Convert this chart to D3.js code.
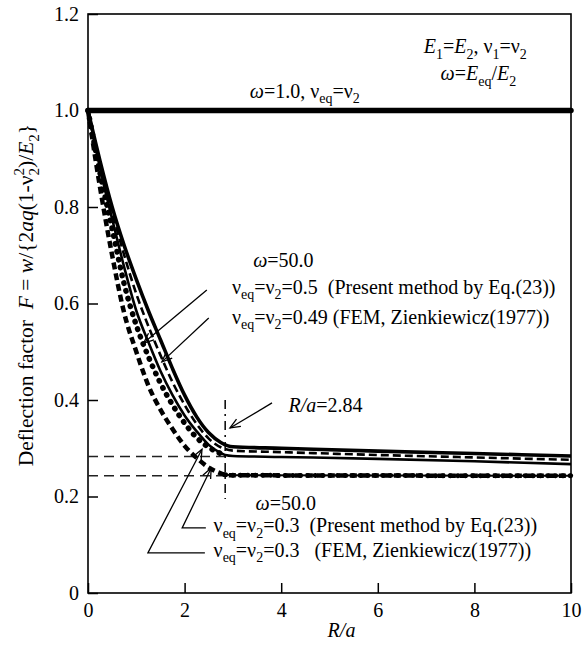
<!DOCTYPE html>
<html><head><meta charset="utf-8">
<script src="https://cdn.jsdelivr.net/npm/d3@7"></script>
<style>
html,body{margin:0;padding:0;background:#fff;}
</style></head>
<body><svg id="chart" width="583" height="649" font-family="Tinos"></svg>
<script>
// ---------- data ----------
const xTicks = [0, 2, 4, 6, 8, 10];
const yTicks = [0, 0.2, 0.4, 0.6, 0.8, 1.0, 1.2];
const yTickLabels = ["0", "0.2", "0.4", "0.6", "0.8", "1.0", "1.2"];

// omega = 1.0
const omega1 = [[0, 1.0], [10, 1.0]];
// omega = 50, nu = 0.5 (present method) - outer thick solid
const curveA = [[0,1.0],[0.25,0.895],[0.5,0.80],[0.75,0.72],[1.0,0.65],[1.25,0.585],[1.5,0.525],[1.75,0.465],[2.0,0.41],[2.25,0.365],[2.5,0.332],[2.75,0.312],[3.0,0.303],[4,0.300],[6,0.294],[8,0.289],[10,0.284]];
// omega = 50, nu = 0.49 (FEM) - dashed
const curveB = [[0,1.0],[0.25,0.888],[0.5,0.79],[0.75,0.70],[1.0,0.62],[1.25,0.553],[1.5,0.493],[1.75,0.437],[2.0,0.39],[2.25,0.35],[2.5,0.32],[2.75,0.302],[3.0,0.295],[4,0.292],[6,0.286],[8,0.281],[10,0.276]];
// omega = 50, nu = 0.3 (present method) - solid
const curveC = [[0,1.0],[0.25,0.88],[0.5,0.775],[0.75,0.675],[1.0,0.585],[1.25,0.52],[1.5,0.46],[1.75,0.41],[2.0,0.368],[2.25,0.335],[2.5,0.307],[2.75,0.29],[2.84,0.286],[3.0,0.284],[4,0.282],[6,0.278],[8,0.273],[10,0.267]];
// dotted curve
const curveD = [[0,1.0],[0.25,0.87],[0.5,0.755],[0.75,0.64],[1.0,0.555],[1.25,0.49],[1.5,0.435],[1.75,0.39],[2.0,0.352],[2.25,0.322],[2.5,0.302],[2.75,0.289],[2.84,0.286]];
// omega = 50, nu = 0.3 (FEM) - thick dashed
const curveE = [[0,1.0],[0.25,0.84],[0.5,0.70],[0.75,0.58],[1.0,0.50],[1.25,0.43],[1.5,0.38],[1.75,0.34],[2.0,0.305],[2.25,0.28],[2.5,0.26],[2.75,0.248],[2.84,0.245],[3.0,0.244],[10,0.243]];

// reference lines
const knee = 2.84;
const refLevels = [0.283, 0.243];
const kneeSpan = [0.195, 0.40];

// annotation anchors (data units)
const arrowUpper = [
  {from:[2.46,0.628], to:[1.15,0.518]},
  {from:[2.50,0.570], to:[1.53,0.479]}
];
const arrowLower = [
  {pts:[[2.44,0.135],[1.95,0.135]], to:[2.55,0.259]},
  {pts:[[2.42,0.083],[1.24,0.083]], to:[2.36,0.298]}
];
const arrowKnee = {from:[3.81,0.394], to:[2.94,0.342]};

// ---------- chart ----------
const W = 583, H = 649;
const FONT = "Tinos";
const m = {left:88, right:12, top:14, bottom:56};
const svg = d3.select("#chart");
svg.append("rect").attr("width",W).attr("height",H).attr("fill","#fff");
const x = d3.scaleLinear().domain([0,10]).range([m.left, W - m.right]);
const y = d3.scaleLinear().domain([0,1.2]).range([H - m.bottom, m.top]);
const FS = 20;

// axes
const gx = svg.append("g").attr("transform",`translate(0,${y(0)})`)
  .call(d3.axisBottom(x).tickValues(xTicks).tickSize(-10).tickPadding(10).tickFormat(d3.format("d")));
const gy = svg.append("g").attr("transform",`translate(${x(0)},0)`)
  .call(d3.axisLeft(y).tickValues(yTicks).tickSize(-10).tickPadding(9).tickFormat((d,i)=>yTickLabels[i]));
[gx, gy].forEach(g => {
  g.attr("font-family", null).attr("font-size", null);
  g.selectAll("text").attr("font-size",FS).attr("fill","#000").style("font-family", FONT);
  g.selectAll("line").attr("stroke","#000").attr("stroke-width",1.5);
  g.select(".domain").remove();
});
// frame
svg.append("rect").attr("x",x(0)).attr("y",y(1.2)).attr("width",x(10)-x(0)).attr("height",y(0)-y(1.2))
  .attr("fill","none").attr("stroke","#000").attr("stroke-width",1.6);

// reference lines
refLevels.forEach(v => {
  svg.append("line").attr("x1",x(0)).attr("x2",x(knee)+3).attr("y1",y(v)).attr("y2",y(v))
    .attr("stroke","#222").attr("stroke-width",1.5).attr("stroke-dasharray","10,6");
});
svg.append("line").attr("x1",x(knee)).attr("x2",x(knee)).attr("y1",y(kneeSpan[1])).attr("y2",y(kneeSpan[0]))
  .attr("stroke","#000").attr("stroke-width",1.5).attr("stroke-dasharray","9,5,2,5");

// curves
const line = d3.line().x(d=>x(d[0])).y(d=>y(d[1])).curve(d3.curveMonotoneX);
function draw(data, w, dash, cap){
  svg.append("path").datum(data).attr("d",line).attr("fill","none").attr("stroke","#000")
    .attr("stroke-width",w).attr("stroke-dasharray",dash||null).attr("stroke-linecap",cap||"butt")
    .attr("stroke-linejoin","round");
}
draw(curveE, 4.5, "7,4");
draw(curveE.filter(d=>d[0]>=knee), 2, null);
draw(curveE.filter(d=>d[0]>=knee), 5, "0.5,7", "round");
draw(curveD, 5.5, "0.5,7.5", "round");
draw(curveC, 2.6);
draw(curveB, 2.6, "8,4");
draw(curveA, 3.6);
draw(omega1, 5.5, null, "round");

// arrows
function arrowHead(p0, p1){
  const ang = Math.atan2(p1[1]-p0[1], p1[0]-p0[0]);
  const L = 11, a = 0.4;
  const h1 = [p1[0]-L*Math.cos(ang-a), p1[1]-L*Math.sin(ang-a)];
  const h2 = [p1[0]-L*Math.cos(ang+a), p1[1]-L*Math.sin(ang+a)];
  svg.append("path").attr("d",`M${h1}L${p1}L${h2}`).attr("fill","none").attr("stroke","#000").attr("stroke-width",1.3);
}
function arrow(ptsData, toData){
  const pts = ptsData.map(p=>[x(p[0]),y(p[1])]);
  const tip = [x(toData[0]),y(toData[1])];
  const all = pts.concat([tip]);
  svg.append("path").attr("d", d3.line()(all)).attr("fill","none").attr("stroke","#000").attr("stroke-width",1.3);
  arrowHead(all[all.length-2], tip);
}
arrowUpper.forEach(a=>arrow([a.from], a.to));
arrowLower.forEach(a=>arrow(a.pts, a.to));
arrow([arrowKnee.from], arrowKnee.to);

// rich text helper
const NB = "\u00A0";
function rich(parent, px, py, segs, opts={}){
  const fs = opts.fs || FS;
  const t = parent.append("text").attr("x",px).attr("y",py).attr("font-size",fs)
    .style("font-family", FONT).attr("fill","#000").attr("text-anchor",opts.anchor||"start");
  if (opts.transform) t.attr("transform",opts.transform);
  let shift = 0;
  segs.forEach(s => {
    const [txt, st, dx] = Array.isArray(s) ? s : [s, ""];
    const sp = t.append("tspan").text(txt.replace(/ /g, NB)).style("font-family", FONT);
    let target = 0, size = fs;
    if (st.indexOf("sub")>=0){ target = 0.28*fs; size = 0.7*fs; }
    if (st.indexOf("sup")>=0){ target = -0.42*fs; size = 0.7*fs; }
    if (target !== shift) sp.attr("dy", target - shift);
    shift = target;
    if (size !== fs) sp.attr("font-size", size);
    if (st.indexOf("it")>=0) sp.attr("font-style","italic");
    if (dx) sp.attr("dx", dx);
  });
  return t;
}
const nuEq = (v) => ["ν",["eq","sub"],"=ν",["2","sub"],"="+v];

rich(svg, x(3.35), y(1.0)-13, [["ω","it"],"=1.0, ν",["eq","sub"],"=ν",["2","sub"]]);
rich(svg, x(6.95), y(1.2)+39, [["E","it"],["1","sub"],"=",["E","it"],["2","sub"],", ν",["1","sub"],"=ν",["2","sub"]]);
rich(svg, x(7.3), y(1.2)+66, [["ω","it"],"=",["E","it"],["eq","sub"],"/",["E","it"],["2","sub"]]);

rich(svg, x(3.42), y(0.675), [["ω","it"],"=50.0"]);
rich(svg, x(2.98), y(0.620), nuEq("0.5").concat(["  (Present method by Eq.(23))"]));
rich(svg, x(2.98), y(0.558), nuEq("0.49").concat([" (FEM, Zienkiewicz(1977))"]));
rich(svg, x(4.15), y(0.376), [["R/a","it"],"=2.84"]);

rich(svg, x(3.47), y(0.172), [["ω","it"],"=50.0"]);
rich(svg, x(2.6), y(0.126), nuEq("0.3").concat(["  (Present method by Eq.(23))"]));
rich(svg, x(2.6), y(0.075), nuEq("0.3").concat(["   (FEM, Zienkiewicz(1977))"]));

// axis titles
rich(svg, x(5.0)+12, H-12, [["R/a","it"]], {anchor:"middle"});
rich(svg, 0, 0, ["Deflection factor  ",["F","it"]," = ",["w","it"],"/{2",["aq","it"],"(1-ν",["2","sub"],["2","sup",-7.5],")/",["E","it"],["2","sub"],"}"],
  {anchor:"middle", fs:21.5, transform:"translate(33,295) rotate(-90)"});
</script></body></html>
